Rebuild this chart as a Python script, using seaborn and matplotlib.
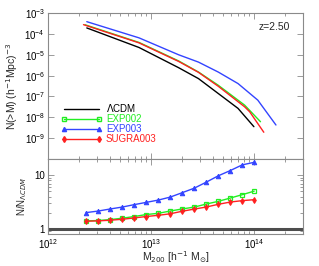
import matplotlib
matplotlib.use("Agg")
import matplotlib.pyplot as plt
from matplotlib.lines import Line2D
from matplotlib.ticker import LogLocator, NullFormatter, NullLocator
import numpy as np
import seaborn as sns

sns.set_style("ticks")
plt.rcParams['font.family'] = ['Liberation Sans', 'DejaVu Sans']
plt.rcParams['mathtext.fontset'] = 'dejavusans'

# cumulative mass function, top panel (log10 M, log10 N)
lcdm_logm = [12.378, 12.885, 13.269, 13.462, 13.654, 13.846, 14.0]
lcdm_logn = [-3.714, -4.652, -5.619, -6.143, -6.857, -7.571, -8.448]
exp002_logm = [12.36, 12.885, 13.269, 13.462, 13.654, 13.91, 14.064]
exp002_logn = [-3.56, -4.41, -5.295, -5.829, -6.462, -7.414, -8.21]
exp003_logm = [12.378, 12.885, 13.269, 13.462, 13.654, 13.846, 14.038, 14.214]
exp003_logn = [-3.414, -4.19, -5.0, -5.352, -5.829, -6.381, -7.176, -8.367]
sugra_logm = [12.346, 12.885, 13.269, 13.462, 13.654, 13.91, 13.959, 14.096]
sugra_logn = [-3.557, -4.43, -5.319, -5.843, -6.51, -7.495, -7.733, -8.714]

# ratio to LCDM, bottom panel
ratio_m = [2.355e12, 3.08e12, 4.03e12, 5.27e12, 6.89e12, 9.02e12, 1.178e13, 1.54e13,
           2.01e13, 2.64e13, 3.44e13, 4.51e13, 5.89e13, 7.71e13, 1.007e14]
ratio_exp002 = [1.41, 1.43, 1.49, 1.58, 1.70, 1.85, 1.95, 2.15, 2.35, 2.55, 2.90, 3.26, 3.75, 4.34, 5.05]
ratio_exp003 = [2.01, 2.15, 2.35, 2.55, 2.83, 3.12, 3.44, 3.91, 4.72, 5.74, 7.41, 9.75, 12.2, 15.6, 17.4]
ratio_sugra = [1.39, 1.41, 1.45, 1.51, 1.60, 1.70, 1.79, 1.91, 2.13, 2.34, 2.55, 2.87, 3.16, 3.36, 3.50]

c_lcdm, c_exp002, c_exp003, c_sugra = "black", "#22ee22", "#3344ff", "#ff2020"
spine_c = "#8a8a8a"

fig = plt.figure(figsize=(3.19, 2.66), dpi=100)
ax1 = fig.add_axes([0.150, 0.402, 0.800, 0.549])
ax2 = fig.add_axes([0.150, 0.120, 0.800, 0.282], sharex=ax1)

for lm, ln, c in [(lcdm_logm, lcdm_logn, c_lcdm), (exp002_logm, exp002_logn, c_exp002),
                  (sugra_logm, sugra_logn, c_sugra), (exp003_logm, exp003_logn, c_exp003)]:
    sns.lineplot(x=10 ** np.array(lm), y=10 ** np.array(ln), color=c, lw=1.0, ax=ax1)

ax2.axhline(1, color="0.3", lw=2.2)
sns.lineplot(x=ratio_m, y=ratio_exp002, color=c_exp002, marker="s", mfc="none", mec=c_exp002,
             ms=3.2, mew=0.9, lw=1.0, ax=ax2)
sns.lineplot(x=ratio_m, y=ratio_sugra, color=c_sugra, marker="d", mec=c_sugra,
             ms=3.0, lw=1.0, ax=ax2)
sns.lineplot(x=ratio_m, y=ratio_exp003, color=c_exp003, marker="^", mec=c_exp003,
             ms=3.2, lw=1.0, ax=ax2)

for ax in (ax1, ax2):
    ax.set_xscale("log")
    ax.set_yscale("log")
    for s in ax.spines.values():
        s.set_color(spine_c)
        s.set_linewidth(0.8)
    ax.tick_params(which="both", direction="in", top=True, right=True, colors=spine_c,
                   labelcolor="black", labelsize=7, width=0.6)
    ax.tick_params(which="major", length=4, pad=2)
    ax.tick_params(which="minor", length=2)

ax1.set_xlim(1e12, 3e14)
ax1.set_ylim(1e-10, 1e-3)
ax1.set_yticks([1e-3, 1e-4, 1e-5, 1e-6, 1e-7, 1e-8, 1e-9])
ax1.yaxis.set_minor_locator(NullLocator())
ax1.tick_params(labelbottom=False)
ax1.set_ylabel(r"N(>M) (h$^{-1}$Mpc)$^{-3}$", fontsize=7.5, labelpad=3)
ax1.text(0.95, 0.905, "z=2.50", transform=ax1.transAxes, ha="right", va="center", fontsize=7.5)

ax2.set_ylim(0.8, 20)
ax2.set_yticks([1, 10])
ax2.set_yticklabels(["1", "10"])
ax2.yaxis.set_minor_locator(LogLocator(base=10, subs=np.arange(2, 10), numticks=10))
ax2.yaxis.set_minor_formatter(NullFormatter())
ax2.set_xticks([1e12, 1e13, 1e14])
ax2.set_xlabel(r"M$_{200}$ [h$^{-1}$ M$_{\odot}$]", fontsize=7.5, labelpad=-1)
ax2.set_ylabel(r"N/N$_{\Lambda CDM}$", fontsize=7, labelpad=4)

handles = [
    Line2D([], [], color=c_lcdm, lw=1.0),
    Line2D([], [], color=c_exp002, lw=1.0, marker="s", mfc="none", ms=3),
    Line2D([], [], color=c_exp003, lw=1.0, marker="^", ms=3),
    Line2D([], [], color=c_sugra, lw=1.0, marker="d", ms=3),
]
labels = [r"$\Lambda$CDM", "EXP002", "EXP003", "SUGRA003"]
leg = ax1.legend(handles, labels, loc="lower left", bbox_to_anchor=(0.03, 0.06), frameon=False,
                 fontsize=7, numpoints=2, handlelength=4.2, handletextpad=0.4,
                 labelspacing=0.0, borderpad=0.1)
for t, c in zip(leg.get_texts(), [c_lcdm, c_exp002, c_exp003, c_sugra]):
    t.set_color(c)

fig.savefig("out.png", dpi=100)
